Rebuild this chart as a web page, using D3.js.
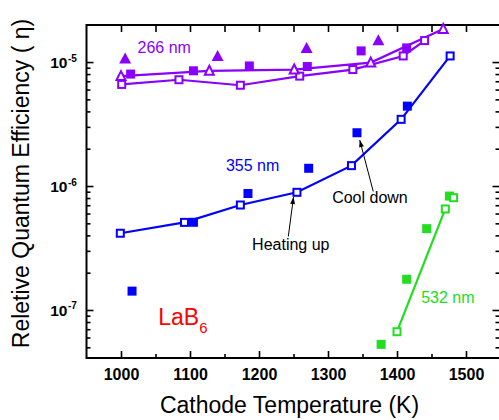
<!DOCTYPE html>
<html><head><meta charset="utf-8">
<script src="https://cdn.jsdelivr.net/npm/d3@7"></script>
<style>body{margin:0;background:#fff}svg{display:block;font-family:Arial,"Liberation Sans",sans-serif}</style>
</head><body><svg id="c" width="499" height="420"></svg>
<script>
// ---- data ----
const xTicks = [1000, 1100, 1200, 1300, 1400, 1500];
const xMinorTicks = [1050, 1150, 1250, 1350, 1450];
const yTicks = [1e-7, 1e-6, 1e-5];
const yTickExponents = ["-7", "-6", "-5"];

// 266 nm
const v266OpenSqK  = [1001, 1084, 1173, 1259, 1336, 1409, 1440];
const v266OpenSqQE = [6.6e-6, 7.2e-6, 6.5e-6, 7.7e-6, 8.7e-6, 1.12e-5, 1.49e-5];
const v266OpenTriK  = [1000, 1128, 1251, 1362, 1467];
const v266OpenTriQE = [7.7e-6, 8.5e-6, 8.7e-6, 9.9e-6, 1.85e-5];
const v266FillSqK  = [1014, 1105, 1186, 1270, 1348, 1414];
const v266FillSqQE = [8.0e-6, 8.5e-6, 9.3e-6, 9.2e-6, 1.23e-5, 1.30e-5];
const v266FillTriK  = [1006, 1140, 1269, 1373];
const v266FillTriQE = [1.07e-5, 1.12e-5, 1.30e-5, 1.50e-5];
// 355 nm
const v355OpenK  = [999, 1092, 1173, 1255, 1334, 1406, 1477];
const v355OpenQE = [4.16e-7, 5.09e-7, 7.03e-7, 8.9e-7, 1.46e-6, 3.45e-6, 1.12e-5];
const v355FillK  = [1016, 1105, 1184, 1272, 1342, 1415];
const v355FillQE = [1.42e-7, 5.1e-7, 8.7e-7, 1.39e-6, 2.69e-6, 4.41e-6];
// 532 nm
const v532OpenK  = [1400, 1470];
const v532OpenQE = [6.68e-8, 6.53e-7];
const v532OpenExtraK  = [1482];
const v532OpenExtraQE = [8.05e-7];
const v532FillK  = [1377, 1414, 1443, 1476];
const v532FillQE = [5.28e-8, 1.77e-7, 4.53e-7, 8.3e-7];

const PURPLE = "#8a00ff", BLUE = "#0000ff", GREEN = "#22dd22";

// ---- scales ----
const L = 86.5, R = 500.5, T = 25, B = 358;
const x = d3.scaleLinear().domain([950, 1550]).range([L, R]);
const y = d3.scaleLog().domain([4.1e-8, 1.99e-5]).range([B, T]);

const svg = d3.select("#c");
const zip = (a, b) => a.map((k, i) => [k, b[i]]);

// ---- axes ----
const minorY = [];
for (let e = -8; e <= -5; e++) for (let m = 1; m <= 9; m++) {
  const v = m * Math.pow(10, e);
  if (v >= 4.1e-8 && v <= 1.99e-5 && m !== 1) minorY.push(v);
}
function styleAxis(g){ g.select(".domain").remove(); g.selectAll("line").attr("stroke","#000").attr("stroke-width",1.6); }

svg.append("g").attr("transform",`translate(0,${B})`)
  .call(d3.axisBottom(x).tickValues(xTicks).tickSize(-7).tickPadding(11).tickFormat(d3.format("d")))
  .call(styleAxis)
  .call(g=>g.selectAll("text").attr("font-size",16).attr("font-weight","bold").attr("fill","#000").attr("font-family","Arial, Liberation Sans, sans-serif"));
svg.append("g").attr("transform",`translate(0,${B})`)
  .call(d3.axisBottom(x).tickValues(xMinorTicks).tickSize(-4).tickFormat(""))
  .call(styleAxis);
svg.append("g").attr("transform",`translate(0,${T})`)
  .call(d3.axisTop(x).tickValues(xTicks.concat(xMinorTicks)).tickSize(-7).tickFormat(""))
  .call(styleAxis);

svg.append("g").attr("transform",`translate(${L},0)`)
  .call(d3.axisLeft(y).tickValues(yTicks).tickSize(-7).tickFormat(""))
  .call(styleAxis);
svg.append("g").attr("transform",`translate(${L},0)`)
  .call(d3.axisLeft(y).tickValues(minorY).tickSize(-4).tickFormat(""))
  .call(styleAxis);
svg.append("g").attr("transform",`translate(${R-1},0)`)
  .call(d3.axisRight(y).tickValues(yTicks).tickSize(-7).tickFormat(""))
  .call(styleAxis);
svg.append("g").attr("transform",`translate(${R-1},0)`)
  .call(d3.axisRight(y).tickValues(minorY).tickSize(-4).tickFormat(""))
  .call(styleAxis);

// y tick labels 10^n
const yl = svg.append("g");
yTicks.forEach((v, i) => {
  yl.append("text").attr("font-weight","bold").attr("fill","#000")
    .attr("x", L-19).attr("y", y(v)+6).attr("text-anchor","end").attr("font-size",15.5).text("10");
  yl.append("text").attr("font-weight","bold").attr("x", L-18.5).attr("y", y(v)-0.5)
    .attr("font-size",10).attr("fill","#000").text(yTickExponents[i]);
});

// frame
svg.append("path").attr("d",`M${L},${B}V${T}H${R}V${B}Z`).attr("fill","none").attr("stroke","#000").attr("stroke-width",2);

// axis titles
svg.append("text").attr("x", (L+R)/2 - 4).attr("y", 413).attr("text-anchor","middle")
  .attr("font-size",23).attr("fill","#000").text("Cathode Temperature (K)");
svg.append("text").attr("transform",`translate(29,${(T+B)/2 - 8}) rotate(-90)`).attr("text-anchor","middle")
  .attr("font-size",23).attr("fill","#000").text("Reletive Quantum Efficiency ( \u03b7)");

// ---- series ----
const line = d3.line().x(d=>x(d[0])).y(d=>y(d[1]));
const plot = svg.append("g");
function drawLine(pts, color){ plot.append("path").attr("d", line(pts)).attr("fill","none").attr("stroke",color).attr("stroke-width",2.2); }
function squares(pts, color, filled){
  const s = filled ? 9 : 7;
  plot.append("g").selectAll("rect").data(pts).join("rect")
    .attr("x", d=>x(d[0])-s/2).attr("y", d=>y(d[1])-s/2).attr("width", s).attr("height", s)
    .attr("fill", filled ? color : "#fff").attr("stroke", filled ? "none" : color).attr("stroke-width", 2);
}
function triangles(pts, color, filled){
  const w = filled ? 12 : 9, h = filled ? 10 : 8;
  plot.append("g").selectAll("path").data(pts).join("path")
    .attr("d", d=>{ const cx=x(d[0]), cy=y(d[1]); return `M${cx},${cy-h/2-1}L${cx+w/2},${cy+h/2}L${cx-w/2},${cy+h/2}Z`; })
    .attr("fill", filled ? color : "#fff").attr("stroke", filled ? "none" : color).attr("stroke-width", 2);
}

drawLine(zip(v266OpenSqK, v266OpenSqQE), PURPLE);
drawLine(zip(v266OpenTriK, v266OpenTriQE), PURPLE);
drawLine(zip(v355OpenK, v355OpenQE), BLUE);
drawLine(zip(v532OpenK, v532OpenQE), GREEN);

squares(zip(v266FillSqK, v266FillSqQE), PURPLE, true);
triangles(zip(v266FillTriK, v266FillTriQE), PURPLE, true);
squares(zip(v266OpenSqK, v266OpenSqQE), PURPLE, false);
triangles(zip(v266OpenTriK, v266OpenTriQE), PURPLE, false);

squares(zip(v355FillK, v355FillQE), BLUE, true);
squares(zip(v355OpenK, v355OpenQE), BLUE, false);

squares(zip(v532FillK, v532FillQE), GREEN, true);
squares(zip(v532OpenK, v532OpenQE), GREEN, false);
squares(zip(v532OpenExtraK, v532OpenExtraQE), GREEN, false);

// ---- annotations ----
const labels = [
  {t:"266 nm", k:1024, v:1.18e-5, c:PURPLE},
  {t:"355 nm", k:1152, v:1.33e-6, c:BLUE},
  {t:"532 nm", k:1435, v:1.13e-7, c:GREEN},
  {t:"Cool down", k:1306, v:7.3e-7, c:"#000"},
  {t:"Heating up", k:1190, v:3.05e-7, c:"#000"}
];
labels.forEach(l => svg.append("text").attr("x", x(l.k)).attr("y", y(l.v)).attr("font-size",16).attr("fill",l.c).text(l.t));

const lab = svg.append("text").attr("x", x(1054)).attr("y", y(7.5e-8)).attr("fill","#ff0000");
lab.append("tspan").attr("font-size",23).text("LaB");
lab.append("tspan").attr("font-size",15).attr("dy",8).text("6");

svg.append("defs").append("marker").attr("id","ah").attr("viewBox","0 0 10 10").attr("refX",10).attr("refY",5)
  .attr("markerWidth",9).attr("markerHeight",7).attr("markerUnits","userSpaceOnUse").attr("orient","auto")
  .append("path").attr("d","M0,1.5L10,5L0,8.5Z").attr("fill","#000");
const arrows = [
  {k0:1242.5, v0:3.92e-7, k1:1250, v1:8.15e-7},
  {k0:1365.6, v0:9.04e-7, k1:1346, v1:2.35e-6}
];
arrows.forEach(a => svg.append("line").attr("x1",x(a.k0)).attr("y1",y(a.v0)).attr("x2",x(a.k1)).attr("y2",y(a.v1))
  .attr("stroke","#000").attr("stroke-width",1).attr("marker-end","url(#ah)"));
</script></body></html>
